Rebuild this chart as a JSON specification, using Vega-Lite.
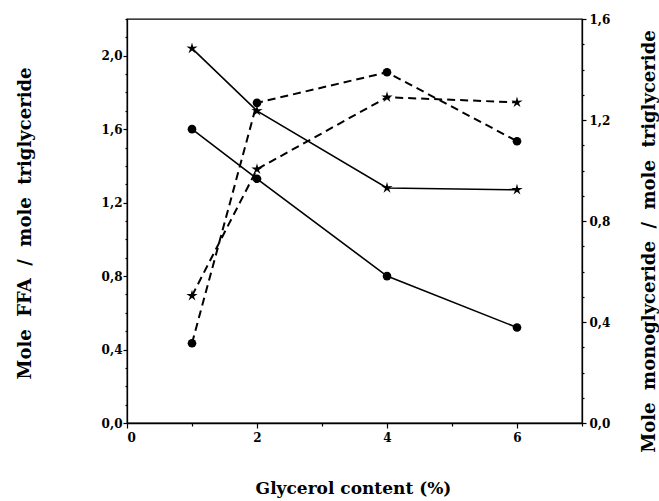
{
  "$schema": "https://vega.github.io/schema/vega-lite/v6.json",
  "width": 455,
  "height": 404,
  "autosize": "none",
  "padding": {"left": 127, "top": 19, "right": 77, "bottom": 78},
  "background": "white",
  "config": {
    "view": {"stroke": "black", "strokeWidth": 1.3},
    "axis": {
      "grid": false,
      "domainColor": "black",
      "domainWidth": 1.3,
      "tickColor": "black",
      "tickWidth": 1.2,
      "labelFont": "DejaVu Serif",
      "labelFontWeight": "bold",
      "labelFontSize": 12,
      "labelColor": "black",
      "titleFont": "DejaVu Serif",
      "titleFontWeight": "bold",
      "titleFontSize": 18,
      "titleColor": "black"
    }
  },
  "data": {
    "values": [
      {"axis": "FFA", "marker": "circle", "x": 1, "y": 1.60},
      {"axis": "FFA", "marker": "circle", "x": 2, "y": 1.33},
      {"axis": "FFA", "marker": "circle", "x": 4, "y": 0.80},
      {"axis": "FFA", "marker": "circle", "x": 6, "y": 0.52},
      {"axis": "FFA", "marker": "star", "x": 1, "y": 2.04},
      {"axis": "FFA", "marker": "star", "x": 2, "y": 1.70},
      {"axis": "FFA", "marker": "star", "x": 4, "y": 1.28},
      {"axis": "FFA", "marker": "star", "x": 6, "y": 1.27},
      {"axis": "MG", "marker": "circle", "x": 1, "y": 0.316},
      {"axis": "MG", "marker": "circle", "x": 2, "y": 1.268},
      {"axis": "MG", "marker": "circle", "x": 4, "y": 1.389},
      {"axis": "MG", "marker": "circle", "x": 6, "y": 1.116},
      {"axis": "MG", "marker": "star", "x": 1, "y": 0.504},
      {"axis": "MG", "marker": "star", "x": 2, "y": 1.005},
      {"axis": "MG", "marker": "star", "x": 4, "y": 1.290},
      {"axis": "MG", "marker": "star", "x": 6, "y": 1.270}
    ]
  },
  "encoding": {
    "x": {
      "field": "x",
      "type": "quantitative",
      "scale": {"domain": [0, 7], "nice": false, "zero": false},
      "axis": {
        "title": "Glycerol content (%)",
        "values": [0, 1, 2, 3, 4, 5, 6, 7],
        "labelExpr": "datum.value % 2 == 0 && datum.value < 7 ? datum.label : ''",
        "tickSize": {"condition": {"test": "datum.value % 2 != 0", "value": 3}, "value": 5},
        "labelPadding": 4,
        "titleX": 226,
        "titleY": 65,
        "titleBaseline": "middle",
        "titleFontSize": 17
      }
    }
  },
  "layer": [
    {
      "transform": [{"filter": "datum.axis == 'FFA'"}],
      "encoding": {
        "y": {
          "field": "y",
          "type": "quantitative",
          "scale": {"domain": [0, 2.2], "nice": false},
          "axis": {
            "orient": "left",
            "title": "Mole\u00a0\u00a0FFA\u00a0\u00a0/\u00a0\u00a0mole\u00a0\u00a0triglyceride",
            "values": [0, 0.1, 0.2, 0.3, 0.4, 0.5, 0.6, 0.7, 0.8, 0.9, 1.0, 1.1, 1.2, 1.3, 1.4, 1.5, 1.6, 1.7, 1.8, 1.9, 2.0, 2.1, 2.2],
            "labelExpr": "round(datum.value*10) % 4 == 0 ? replace(format(datum.value, '.1f'), '.', ',') : ''",
            "tickSize": {"condition": {"test": "round(datum.value*10) % 4 != 0", "value": 2}, "value": 4},
            "labelPadding": 1,
            "titleAngle": -90,
            "titleX": -102,
            "titleY": 204,
            "titleBaseline": "middle",
            "titleAlign": "center"
          }
        }
      },
      "layer": [
        {
          "mark": {"type": "line", "color": "black", "strokeWidth": 1.6},
          "encoding": {"detail": {"field": "marker"}}
        },
        {
          "mark": {"type": "point", "filled": true, "color": "black", "opacity": 1},
          "encoding": {
            "shape": {
              "field": "marker",
              "type": "nominal",
              "scale": {"domain": ["circle", "star"], "range": ["circle", "M0,-1L0.2,-0.28L0.951,-0.309L0.33,0.11L0.588,0.809L0,0.35L-0.588,0.809L-0.33,0.11L-0.951,-0.309L-0.2,-0.28Z"]},
              "legend": null
            },
            "size": {
              "field": "marker",
              "type": "nominal",
              "scale": {"domain": ["circle", "star"], "range": [75, 140]},
              "legend": null
            }
          }
        }
      ]
    },
    {
      "transform": [{"filter": "datum.axis == 'MG'"}],
      "encoding": {
        "y": {
          "field": "y",
          "type": "quantitative",
          "scale": {"domain": [0, 1.6], "nice": false},
          "axis": {
            "orient": "right",
            "title": "Mole\u00a0\u00a0monoglyceride\u00a0\u00a0/\u00a0\u00a0mole\u00a0\u00a0triglyceride",
            "values": [0, 0.1, 0.2, 0.3, 0.4, 0.5, 0.6, 0.7, 0.8, 0.9, 1.0, 1.1, 1.2, 1.3, 1.4, 1.5, 1.6],
            "labelExpr": "round(datum.value*10) % 4 == 0 ? replace(format(datum.value, '.1f'), '.', ',') : ''",
            "tickSize": {"condition": {"test": "round(datum.value*10) % 4 != 0", "value": 2}, "value": 4},
            "labelPadding": 3,
            "titleAngle": -90,
            "titleX": 67,
            "titleY": 222,
            "titleBaseline": "middle",
            "titleAlign": "center"
          }
        }
      },
      "layer": [
        {
          "mark": {"type": "line", "color": "black", "strokeWidth": 2, "strokeDash": [8, 5]},
          "encoding": {"detail": {"field": "marker"}}
        },
        {
          "mark": {"type": "point", "filled": true, "color": "black", "opacity": 1},
          "encoding": {
            "shape": {
              "field": "marker",
              "type": "nominal",
              "scale": {"domain": ["circle", "star"], "range": ["circle", "M0,-1L0.2,-0.28L0.951,-0.309L0.33,0.11L0.588,0.809L0,0.35L-0.588,0.809L-0.33,0.11L-0.951,-0.309L-0.2,-0.28Z"]},
              "legend": null
            },
            "size": {
              "field": "marker",
              "type": "nominal",
              "scale": {"domain": ["circle", "star"], "range": [75, 140]},
              "legend": null
            }
          }
        }
      ]
    }
  ],
  "resolve": {"scale": {"y": "independent", "shape": "independent", "size": "independent"}}
}
